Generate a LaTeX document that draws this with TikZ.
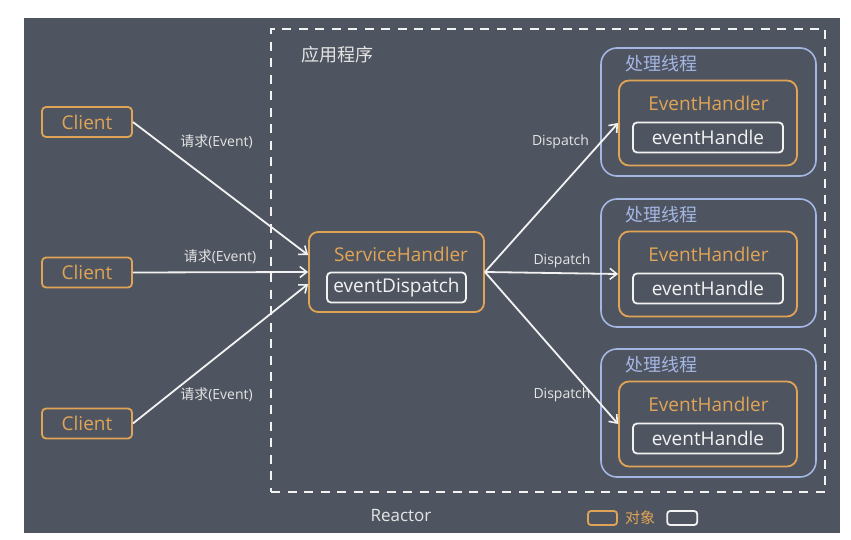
\documentclass[tikz,border=0pt]{standalone}
\usepackage{fontspec}
\setmainfont{Open Sans}
\newfontfamily\cjk{Noto Sans CJK SC}
\usetikzlibrary{arrows.meta,positioning}
\definecolor{panel}{HTML}{4F5560}
\definecolor{objorange}{HTML}{E0A456}
\definecolor{threadblue}{HTML}{A4B6E4}
\definecolor{boxwhite}{HTML}{F2F2F2}
\definecolor{labelgray}{HTML}{E4E4E4}

\begin{document}
\begin{tikzpicture}[
  x=1pt, y=-1pt,
  font=\fontsize{19}{22}\selectfont,
  obj/.style={draw=objorange, line width=1.8pt, rounded corners=4pt, text=objorange, inner sep=0pt},
  meth/.style={draw=boxwhite, line width=1.8pt, rounded corners=4pt, text=boxwhite, minimum height=30pt, inner sep=0pt},
  thread/.style={draw=threadblue, line width=1.6pt, rounded corners=16pt, minimum width=215pt, minimum height=128pt},
  ttl/.style={text=objorange, inner sep=0pt},
  cjkttl/.style={font=\cjk\fontsize{18}{20}\selectfont, inner sep=0pt},
  lbl/.style={text=labelgray, font=\fontsize{14}{16}\selectfont, inner sep=0pt},
  arr/.style={-{Straight Barb[length=7pt,width=11pt,line width=1.6pt]}, line width=1.8pt, boxwhite}
]
\useasboundingbox (0,0) rectangle (851,540);
\fill[panel] (24,18) rectangle (840,533);

% application frame
\node[draw=boxwhite, line width=2.4pt, dash pattern=on 9pt off 7.5pt,
      minimum width=554pt, minimum height=463pt] (app) at (548,260.5) {};
\node[cjkttl, text=labelgray] (apptitle) at (337.5,55) {应用程序};

% clients
\foreach \i/\y in {1/122,2/272.5,3/423.5}
  \node[obj, minimum width=90pt, minimum height=30pt] (c\i) at (87,\y) {Client};

% service handler
\node[obj, rounded corners=9pt, minimum width=175pt, minimum height=80pt] (sh) at (396.5,272) {};
\node[ttl] (shtitle) at (401,254) {ServiceHandler};
\node[meth, minimum width=139pt] (ed) at (396.5,287.5) {eventDispatch};

% worker threads
\foreach \i/\y in {1/112,2/263,3/413} {
  \node[thread] (t\i) at (708.5,\y) {};
  \node[cjkttl, text=threadblue] (tl\i) at (661.5,\y-48) {处理线程};
  \node[obj, rounded corners=10pt, minimum width=178pt, minimum height=85pt] (eh\i) at (708,\y+11) {};
  \node[ttl] (et\i) at (708.5,\y-8.5) {EventHandler};
  \node[meth, minimum width=150pt] (hd\i) at (708,\y+25.5) {eventHandle};
}

% requests
\draw[arr] (c1.east) -- ([yshift=17pt]sh.west);
\draw[arr] (c2.east) -- (sh.west);
\draw[arr] (c3.east) -- ([yshift=-12pt]sh.west);
\node[lbl] (q1) at (216.5,141.5) {{\cjk 请求}(Event)};
\node[lbl] (q2) at (220,257) {{\cjk 请求}(Event)};
\node[lbl] (q3) at (216.5,395) {{\cjk 请求}(Event)};

% dispatch
\foreach \i in {1,2,3}
  \draw[arr] (sh.east) -- (eh\i.west);
\node[lbl] (d1) at (560.5,141.5) {Dispatch};
\node[lbl] (d2) at (562,261) {Dispatch};
\node[lbl] (d3) at (562,395) {Dispatch};

% footer
\node[text=labelgray, font=\fontsize{17}{20}\selectfont, inner sep=0pt] (reactor) at (401,516) {Reactor};
\node[obj, rounded corners=3pt, minimum width=29pt, minimum height=14pt] (legobj) at (602.5,518) {};
\node[cjkttl, text=objorange, font=\cjk\fontsize{15}{17}\selectfont, right=7pt of legobj] (legobjtxt) {对象};
\node[meth, rounded corners=3pt, minimum width=30pt, minimum height=14pt, right=11pt of legobjtxt] (legmeth) {};
\end{tikzpicture}
\end{document}
